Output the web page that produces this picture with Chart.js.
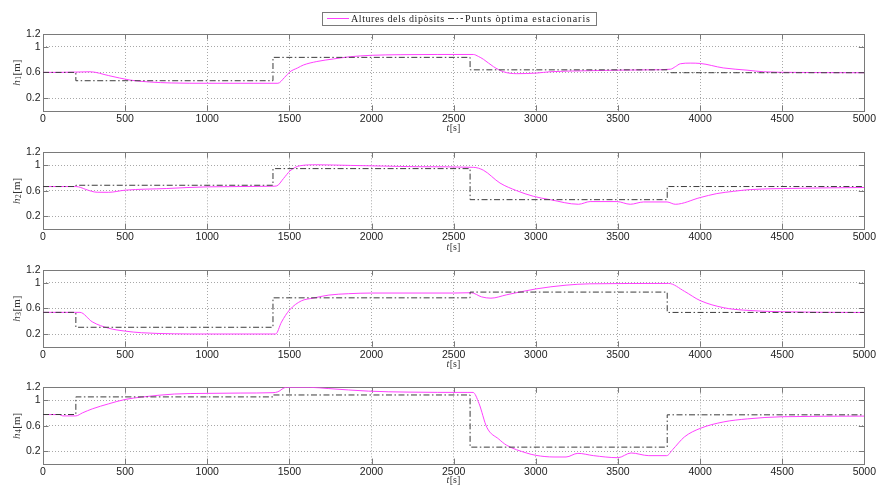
<!DOCTYPE html>
<html>
<head>
<meta charset="utf-8">
<script src="https://cdn.jsdelivr.net/npm/chart.js@4.4.1/dist/chart.umd.min.js"></script>
<style>
  html, body { margin: 0; padding: 0; background: #fff; }
  #wrap { position: relative; width: 878px; height: 491px; overflow: hidden; background: #fff; }
  #wrap canvas { position: absolute; left: 0; }
</style>
</head>
<body>
<div id="wrap">
  <canvas id="c0"></canvas>
  <canvas id="c1"></canvas>
  <canvas id="c2"></canvas>
  <canvas id="c3"></canvas>
</div>
<script>
// ---- Data: tank levels h1..h4 [m] over time t [s], and optimal steady-state set points ----
const xTicks = [0, 500, 1000, 1500, 2000, 2500, 3000, 3500, 4000, 4500, 5000];
const yTicks = [0.2, 0.6, 1, 1.2];

const legendLabels = ['Altures dels dipòsits', 'Punts òptima estacionaris'];

// set-point change instants (each value holds until the next instant)
const stepT = [0, 200, 1400, 2600, 3800, 5000];
const sp1 = [0.60, 0.47, 0.835, 0.64, 0.595, 0.595];
const sp2 = [0.665, 0.685, 0.945, 0.46, 0.665, 0.665];
const sp3 = [0.538, 0.305, 0.765, 0.855, 0.537, 0.537];
const sp4 = [0.775, 1.05, 1.08, 0.265, 0.77, 0.77];

// tank 1
const t1 = [0, 100, 200, 286, 400, 530, 650, 780, 1000, 1200, 1430, 1470, 1504, 1550, 1585, 1667, 1768, 1870, 2000, 2174, 2400, 2620, 2650, 2681, 2742, 2803, 2884, 3006, 3087, 3290, 3500, 3700, 3820, 3850, 3880, 3940, 4001, 4141, 4286, 4386, 4568, 5000];
const h1 = [0.60, 0.60, 0.605, 0.61, 0.55, 0.48, 0.45, 0.435, 0.43, 0.43, 0.43, 0.52, 0.61, 0.67, 0.715, 0.77, 0.81, 0.845, 0.867, 0.877, 0.88, 0.88, 0.85, 0.805, 0.69, 0.61, 0.58, 0.59, 0.61, 0.625, 0.635, 0.64, 0.65, 0.69, 0.735, 0.745, 0.74, 0.67, 0.635, 0.61, 0.60, 0.595];

// tank 2
const t2 = [0, 200, 230, 260, 330, 400, 500, 753, 1000, 1400, 1423, 1464, 1504, 1565, 1667, 1870, 2073, 2276, 2620, 2681, 2782, 2884, 2985, 3087, 3260, 3331, 3494, 3575, 3656, 3799, 3849, 4001, 4102, 4204, 4306, 4509, 5000];
const h2 = [0.665, 0.665, 0.65, 0.62, 0.576, 0.575, 0.608, 0.634, 0.66, 0.67, 0.675, 0.79, 0.91, 0.99, 1.005, 0.995, 0.985, 0.975, 0.965, 0.92, 0.72, 0.60, 0.513, 0.46, 0.388, 0.43, 0.43, 0.388, 0.424, 0.424, 0.388, 0.493, 0.555, 0.59, 0.618, 0.634, 0.65];

// tank 3
const t3 = [0, 200, 225, 300, 400, 500, 600, 800, 1000, 1416, 1452, 1500, 1572, 1644, 1740, 1861, 2000, 2500, 2606, 2670, 2727, 2823, 3000, 3184, 3328, 3809, 3905, 4000, 4145, 4266, 4500, 5000];
const h3 = [0.538, 0.538, 0.538, 0.39, 0.29, 0.245, 0.22, 0.203, 0.20, 0.20, 0.387, 0.573, 0.717, 0.76, 0.808, 0.83, 0.84, 0.84, 0.845, 0.78, 0.76, 0.813, 0.904, 0.963, 0.984, 0.99, 0.867, 0.723, 0.61, 0.573, 0.547, 0.536];

// tank 4
const t4 = [0, 100, 120, 200, 240, 300, 400, 500, 600, 800, 1000, 1200, 1400, 1430, 1480, 1620, 1740, 1981, 2222, 2582, 2618, 2654, 2702, 2775, 2823, 2943, 3000, 3111, 3184, 3256, 3352, 3500, 3580, 3688, 3797, 3833, 3905, 4000, 4145, 4290, 4500, 5000];
const h4 = [0.774, 0.774, 0.753, 0.753, 0.80, 0.863, 0.942, 1.01, 1.047, 1.095, 1.105, 1.11, 1.116, 1.13, 1.20, 1.20, 1.18, 1.14, 1.125, 1.12, 1.12, 0.95, 0.574, 0.39, 0.294, 0.174, 0.137, 0.111, 0.111, 0.168, 0.132, 0.10, 0.174, 0.132, 0.132, 0.226, 0.425, 0.557, 0.66, 0.707, 0.74, 0.75];

const panels = [
  { t: t1, h: h1, sp: sp1, sub: '1' },
  { t: t2, h: h2, sp: sp2, sub: '2' },
  { t: t3, h: h3, sp: sp3, sub: '3' },
  { t: t4, h: h4, sp: sp4, sub: '4' }
];

// ---- Layout ----
const W = 878;
const PLOT_LEFT = 43;
const PLOT_RIGHT = 864.5;
const PLOT_TOPS = [34, 152.3, 270, 387.3];
const PLOT_H = 76.8;
const BELOW = 26;

const LINE_COLOR = '#ff40ff';
const SP_COLOR = '#3c3c3c';
const SP_DASH = [6, 2.5, 1.5, 2.5];
const AXIS_COLOR = '#7a7a7a';
const GRID_COLOR = '#a8a8a8';
const TEXT_COLOR = '#222';
const SERIF = '"Liberation Serif", "DejaVu Serif", serif';
const SANS = '"Liberation Sans", Arial, sans-serif';

const toPoints = (xs, ys) => xs.map((x, i) => ({ x: x, y: ys[i] }));

// box, inside tick marks and axis labels
const framePlugin = {
  id: 'frame',
  beforeDatasetsDraw(chart) {
    const { ctx, chartArea: a, scales } = chart;
    const len = 5.5;
    ctx.save();
    ctx.strokeStyle = AXIS_COLOR;
    ctx.lineWidth = 1;
    ctx.setLineDash([]);
    ctx.beginPath();
    xTicks.forEach(v => {
      const px = Math.round(scales.x.getPixelForValue(v)) + 0.5;
      ctx.moveTo(px, a.bottom); ctx.lineTo(px, a.bottom - len);
      ctx.moveTo(px, a.top); ctx.lineTo(px, a.top + len);
    });
    yTicks.forEach(v => {
      const py = Math.round(scales.y.getPixelForValue(v)) + 0.5;
      ctx.moveTo(a.left, py); ctx.lineTo(a.left + len, py);
      ctx.moveTo(a.right, py); ctx.lineTo(a.right - len, py);
    });
    ctx.stroke();
    ctx.strokeRect(Math.round(a.left) + 0.5, Math.round(a.top) + 0.5,
                   Math.round(a.right) - Math.round(a.left), Math.round(a.bottom) - Math.round(a.top));
    ctx.restore();
  },
  afterDraw(chart) {
    const { ctx, chartArea: a } = chart;
    const sub = chart.options.plugins.frame.sub;
    ctx.save();
    ctx.fillStyle = '#333';
    ctx.textBaseline = 'middle';
    // y label: h_k [m], rotated
    const parts = [
      { s: 'h', f: 'italic 11px ' + SERIF, dy: 0 },
      { s: sub, f: '7.5px ' + SERIF, dy: 2.5 },
      { s: '[m]', f: '11px ' + SERIF, dy: 0 }
    ];
    let tw = 0;
    parts.forEach(p => { ctx.font = p.f; p.w = ctx.measureText(p.s).width; tw += p.w + 0.5; });
    ctx.translate(17, (a.top + a.bottom) / 2);
    ctx.rotate(-Math.PI / 2);
    let x = -tw / 2;
    parts.forEach(p => { ctx.font = p.f; ctx.fillText(p.s, x, p.dy); x += p.w + 0.5; });
    ctx.setTransform(1, 0, 0, 1, 0, 0);
    // x label: t [s]
    const xp = [
      { s: 't', f: 'italic 10px ' + SERIF },
      { s: '[s]', f: '10px ' + SERIF }
    ];
    tw = 0;
    xp.forEach(p => { ctx.font = p.f; p.w = ctx.measureText(p.s).width; tw += p.w + 0.5; });
    x = (a.left + a.right) / 2 - tw / 2;
    const yy = a.bottom + chart.options.plugins.frame.xLabelOffset;
    xp.forEach(p => { ctx.font = p.f; ctx.fillText(p.s, x, yy); x += p.w + 0.5; });
    ctx.restore();
  }
};

// legend box above the first panel
const legendPlugin = {
  id: 'topLegend',
  afterDraw(chart) {
    if (!chart.options.plugins.topLegend.show) return;
    const ctx = chart.ctx;
    const y = 18.5;
    const left = 322.5, right = 596.5;
    const s1a = 327, s1b = 349, tx1 = 351, tw1 = 93;
    const s2a = 448, s2b = 463, tx2 = 465, tw2 = 125;
    ctx.save();
    ctx.fillStyle = '#fff';
    ctx.fillRect(left, 12.5, right - left, 13);
    ctx.strokeStyle = AXIS_COLOR;
    ctx.lineWidth = 1;
    ctx.strokeRect(left, 12.5, right - left, 13);
    ctx.strokeStyle = LINE_COLOR;
    ctx.beginPath(); ctx.moveTo(s1a, y); ctx.lineTo(s1b, y); ctx.stroke();
    ctx.strokeStyle = SP_COLOR;
    ctx.setLineDash(SP_DASH);
    ctx.beginPath(); ctx.moveTo(s2a, y); ctx.lineTo(s2b, y); ctx.stroke();
    ctx.setLineDash([]);
    ctx.fillStyle = '#222';
    ctx.textBaseline = 'middle';
    ctx.font = '10px ' + SERIF;
    // spread letters so each label fills its slot in the box
    const fit = (txt, x0, target) => {
      ctx.letterSpacing = '0px';
      const nat = ctx.measureText(txt).width;
      const ls = Math.max(0, (target - nat) / Math.max(1, txt.length - 1));
      ctx.letterSpacing = ls.toFixed(2) + 'px';
      ctx.fillText(txt, x0, y + 0.5);
      ctx.letterSpacing = '0px';
    };
    fit(legendLabels[0], tx1, tw1);
    fit(legendLabels[1], tx2, tw2);
    ctx.restore();
  }
};

panels.forEach((p, k) => {
  const canvas = document.getElementById('c' + k);
  const top = k === 0 ? 0 : Math.floor(PLOT_TOPS[k]) - 12;
  const padTop = PLOT_TOPS[k] - top;
  const height = Math.ceil(padTop + PLOT_H + BELOW);
  const xAxisH = height - padTop - PLOT_H;
  canvas.width = W;
  canvas.height = height;
  canvas.style.top = top + 'px';
  canvas.style.width = W + 'px';
  canvas.style.height = height + 'px';

  new Chart(canvas, {
    type: 'line',
    data: {
      datasets: [
        {
          data: toPoints(p.t, p.h),
          borderColor: LINE_COLOR,
          borderWidth: 1,
          pointRadius: 0,
          cubicInterpolationMode: 'monotone',
          order: 2
        },
        {
          data: toPoints(stepT, p.sp),
          borderColor: SP_COLOR,
          borderWidth: 1,
          borderDash: SP_DASH,
          pointRadius: 0,
          stepped: 'before',
          order: 1
        }
      ]
    },
    options: {
      responsive: false,
      animation: false,
      devicePixelRatio: 1,
      parsing: false,
      normalized: true,
      layout: { padding: { top: padTop, left: 0, right: W - PLOT_RIGHT, bottom: 0 } },
      plugins: {
        legend: { display: false },
        tooltip: { enabled: false },
        frame: { sub: p.sub, xLabelOffset: k === 3 ? 16 : 18 },
        topLegend: { show: k === 0 }
      },
      scales: {
        x: {
          type: 'linear',
          min: 0, max: 5000,
          afterBuildTicks: s => { s.ticks = xTicks.map(v => ({ value: v })); },
          afterFit: s => { s.height = xAxisH; },
          grid: { color: GRID_COLOR, lineWidth: 1, drawTicks: false },
          border: { display: false, dash: [1, 2] },
          ticks: {
            padding: 2, color: TEXT_COLOR, autoSkip: false, maxRotation: 0,
            font: { family: SANS, size: 10.5 },
            callback: v => String(v)
          }
        },
        y: {
          type: 'linear',
          min: 0, max: 1.2,
          afterBuildTicks: s => { s.ticks = yTicks.map(v => ({ value: v })); },
          afterFit: s => { s.width = PLOT_LEFT; },
          grid: { color: GRID_COLOR, lineWidth: 1, drawTicks: false },
          border: { display: false, dash: [1, 2] },
          ticks: {
            padding: 2.5, color: TEXT_COLOR,
            font: { family: SANS, size: 10.5 },
            callback: v => String(v)
          }
        }
      }
    },
    plugins: [framePlugin, legendPlugin]
  });
});
</script>
</body>
</html>
